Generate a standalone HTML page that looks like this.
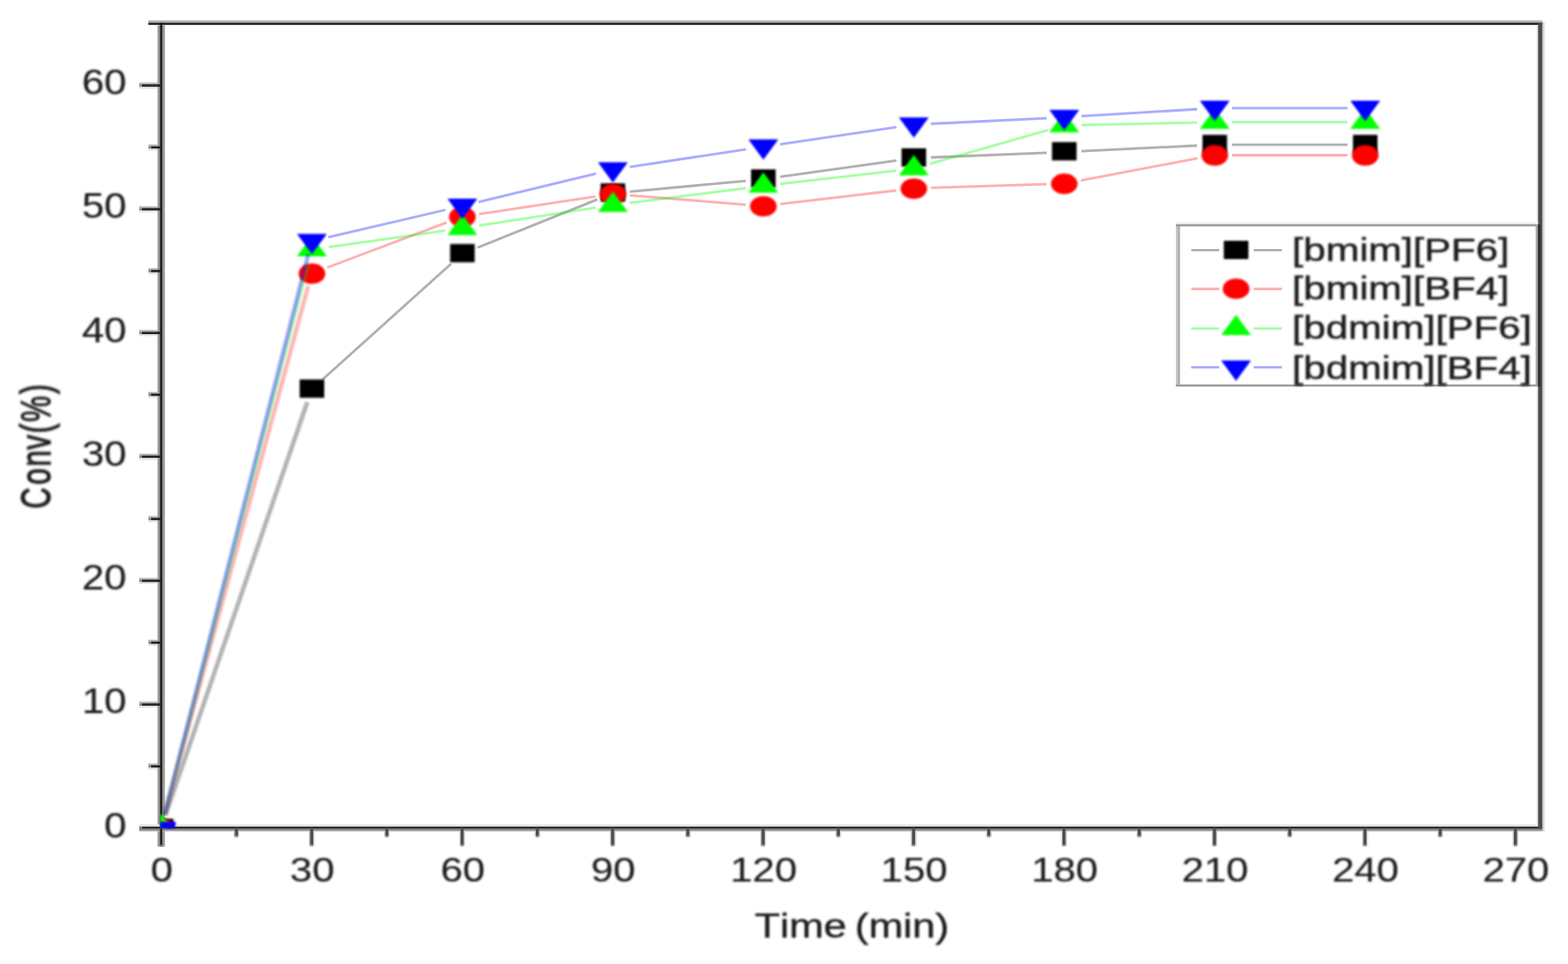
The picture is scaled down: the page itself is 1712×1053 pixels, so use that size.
<!DOCTYPE html>
<html lang="en"><head><meta charset="utf-8"><title>Conv(%) vs Time (min)</title>
<style>html,body{margin:0;padding:0;background:#fff;overflow:hidden}svg{display:block}text{font-family:"Liberation Sans",sans-serif;fill:#1c1c1c}</style>
</head><body>
<svg width="1712" height="1053" viewBox="0 0 1712 1053" role="img" aria-label="Conversion versus time for four ionic liquids">
<defs>
<filter id="bl" x="-5%" y="-5%" width="110%" height="110%"><feGaussianBlur stdDeviation="1.0"/></filter>
<filter id="bm" x="-5%" y="-5%" width="110%" height="110%"><feGaussianBlur stdDeviation="0.9"/></filter>
<filter id="bt" x="-5%" y="-5%" width="110%" height="110%"><feGaussianBlur stdDeviation="0.8"/></filter>
<clipPath id="plot"><rect x="174.8" y="20" width="1506.8" height="885.2"/></clipPath>
</defs>
<rect width="1712" height="1053" fill="#fff"/>
<g>
<rect x="171.7" y="27" width="8.6" height="897.9" fill="#dedede"/>
<rect x="172.1" y="27" width="7.8" height="897.6" fill="#9c9c9c"/>
<rect x="161.6" y="21.9" width="1522.3" height="1" fill="#e2e2e2"/>
<rect x="162" y="22.5" width="1521.9" height="2.8" fill="#b0b0b0"/>
<rect x="162" y="24.2" width="1521.9" height="1.1" fill="#8c8c8c"/>
<rect x="162" y="27" width="1521.9" height="0.7" fill="#e6e6e6"/>
<rect x="152" y="900.4" width="1531.9" height="2.7" fill="#e6e6e6"/>
<rect x="152" y="905" width="1531.9" height="2.8" fill="#8e8e8e"/>
<rect x="152" y="907.8" width="1531.9" height="0.6" fill="#d8d8d8"/>
<rect x="1683.8" y="24" width="2.5" height="884" fill="#cfcfcf"/>
<rect x="1677.4" y="27" width="2" height="876" fill="#ededed"/>
<rect x="162" y="833.94" width="9.9" height="1.9" fill="#b4b4b4"/>
<rect x="162" y="838.34" width="9.9" height="2.4" fill="#e4e4e4"/>
<rect x="152" y="766.37" width="19.9" height="1.9" fill="#b4b4b4"/>
<rect x="152" y="770.77" width="19.9" height="2.4" fill="#e4e4e4"/>
<rect x="162" y="698.8" width="9.9" height="1.9" fill="#b4b4b4"/>
<rect x="162" y="703.2" width="9.9" height="2.4" fill="#e4e4e4"/>
<rect x="152" y="631.24" width="19.9" height="1.9" fill="#b4b4b4"/>
<rect x="152" y="635.64" width="19.9" height="2.4" fill="#e4e4e4"/>
<rect x="162" y="563.68" width="9.9" height="1.9" fill="#b4b4b4"/>
<rect x="162" y="568.08" width="9.9" height="2.4" fill="#e4e4e4"/>
<rect x="152" y="495.61" width="19.9" height="1.9" fill="#b4b4b4"/>
<rect x="152" y="500.01" width="19.9" height="2.4" fill="#e4e4e4"/>
<rect x="162" y="428.05" width="9.9" height="1.9" fill="#b4b4b4"/>
<rect x="162" y="432.45" width="9.9" height="2.4" fill="#e4e4e4"/>
<rect x="152" y="360.48" width="19.9" height="1.9" fill="#b4b4b4"/>
<rect x="152" y="364.88" width="19.9" height="2.4" fill="#e4e4e4"/>
<rect x="162" y="292.91" width="9.9" height="1.9" fill="#b4b4b4"/>
<rect x="162" y="297.31" width="9.9" height="2.4" fill="#e4e4e4"/>
<rect x="152" y="225.35" width="19.9" height="1.9" fill="#b4b4b4"/>
<rect x="152" y="229.75" width="19.9" height="2.4" fill="#e4e4e4"/>
<rect x="162" y="157.78" width="9.9" height="1.9" fill="#b4b4b4"/>
<rect x="162" y="162.19" width="9.9" height="2.4" fill="#e4e4e4"/>
<rect x="152" y="90.22" width="19.9" height="1.9" fill="#b4b4b4"/>
<rect x="152" y="94.62" width="19.9" height="2.4" fill="#e4e4e4"/>
<rect x="255.04" y="908.2" width="6.2" height="5.9" fill="#cccccc"/>
<rect x="337.19" y="908.2" width="6.2" height="15.8" fill="#cccccc"/>
<rect x="419.33" y="908.2" width="6.2" height="5.9" fill="#cccccc"/>
<rect x="501.48" y="908.2" width="6.2" height="15.8" fill="#cccccc"/>
<rect x="583.62" y="908.2" width="6.2" height="5.9" fill="#cccccc"/>
<rect x="665.77" y="908.2" width="6.2" height="15.8" fill="#cccccc"/>
<rect x="747.91" y="908.2" width="6.2" height="5.9" fill="#cccccc"/>
<rect x="830.06" y="908.2" width="6.2" height="15.8" fill="#cccccc"/>
<rect x="912.2" y="908.2" width="6.2" height="5.9" fill="#cccccc"/>
<rect x="994.34" y="908.2" width="6.2" height="15.8" fill="#cccccc"/>
<rect x="1076.49" y="908.2" width="6.2" height="5.9" fill="#cccccc"/>
<rect x="1158.63" y="908.2" width="6.2" height="15.8" fill="#cccccc"/>
<rect x="1240.78" y="908.2" width="6.2" height="5.9" fill="#cccccc"/>
<rect x="1322.92" y="908.2" width="6.2" height="15.8" fill="#cccccc"/>
<rect x="1405.07" y="908.2" width="6.2" height="5.9" fill="#cccccc"/>
<rect x="1487.21" y="908.2" width="6.2" height="15.8" fill="#cccccc"/>
<rect x="1569.36" y="908.2" width="6.2" height="5.9" fill="#cccccc"/>
<rect x="1651.5" y="908.2" width="6.2" height="15.8" fill="#cccccc"/>
<rect x="174.45" y="25.2" width="3" height="899.4" fill="#6a6a6a"/>
<rect x="174.85" y="25.2" width="2.2" height="899.2" fill="#222"/>
<rect x="162" y="25.2" width="1521.9" height="1.9" fill="#111"/>
<rect x="152" y="902.9" width="1531.9" height="2.3" fill="#2e2e2e"/>
<rect x="1679.3" y="25.2" width="4.6" height="880" fill="#4c4c4c"/>
<rect x="162" y="835.84" width="3" height="2.6" fill="#8a8a8a"/>
<rect x="165" y="835.84" width="11" height="2.6" fill="#222"/>
<rect x="152" y="768.27" width="3" height="2.6" fill="#8a8a8a"/>
<rect x="155" y="768.27" width="21" height="2.6" fill="#222"/>
<rect x="162" y="700.7" width="3" height="2.6" fill="#8a8a8a"/>
<rect x="165" y="700.7" width="11" height="2.6" fill="#222"/>
<rect x="152" y="633.14" width="3" height="2.6" fill="#8a8a8a"/>
<rect x="155" y="633.14" width="21" height="2.6" fill="#222"/>
<rect x="162" y="565.58" width="3" height="2.6" fill="#8a8a8a"/>
<rect x="165" y="565.58" width="11" height="2.6" fill="#222"/>
<rect x="152" y="497.51" width="3" height="2.6" fill="#8a8a8a"/>
<rect x="155" y="497.51" width="21" height="2.6" fill="#222"/>
<rect x="162" y="429.95" width="3" height="2.6" fill="#8a8a8a"/>
<rect x="165" y="429.95" width="11" height="2.6" fill="#222"/>
<rect x="152" y="362.38" width="3" height="2.6" fill="#8a8a8a"/>
<rect x="155" y="362.38" width="21" height="2.6" fill="#222"/>
<rect x="162" y="294.81" width="3" height="2.6" fill="#8a8a8a"/>
<rect x="165" y="294.81" width="11" height="2.6" fill="#222"/>
<rect x="152" y="227.25" width="3" height="2.6" fill="#8a8a8a"/>
<rect x="155" y="227.25" width="21" height="2.6" fill="#222"/>
<rect x="162" y="159.69" width="3" height="2.6" fill="#8a8a8a"/>
<rect x="165" y="159.69" width="11" height="2.6" fill="#222"/>
<rect x="152" y="92.12" width="3" height="2.6" fill="#8a8a8a"/>
<rect x="155" y="92.12" width="21" height="2.6" fill="#222"/>
<rect x="152" y="902.9" width="3" height="2.3" fill="#8a8a8a"/>
<rect x="256.44" y="904.1" width="3.4" height="8.8" fill="#4e4e4e"/>
<rect x="256.44" y="912.9" width="3.4" height="1.8" fill="#9a9a9a"/>
<rect x="338.59" y="904.1" width="3.4" height="18.7" fill="#4e4e4e"/>
<rect x="338.59" y="922.8" width="3.4" height="1.8" fill="#9a9a9a"/>
<rect x="420.73" y="904.1" width="3.4" height="8.8" fill="#4e4e4e"/>
<rect x="420.73" y="912.9" width="3.4" height="1.8" fill="#9a9a9a"/>
<rect x="502.88" y="904.1" width="3.4" height="18.7" fill="#4e4e4e"/>
<rect x="502.88" y="922.8" width="3.4" height="1.8" fill="#9a9a9a"/>
<rect x="585.02" y="904.1" width="3.4" height="8.8" fill="#4e4e4e"/>
<rect x="585.02" y="912.9" width="3.4" height="1.8" fill="#9a9a9a"/>
<rect x="667.17" y="904.1" width="3.4" height="18.7" fill="#4e4e4e"/>
<rect x="667.17" y="922.8" width="3.4" height="1.8" fill="#9a9a9a"/>
<rect x="749.31" y="904.1" width="3.4" height="8.8" fill="#4e4e4e"/>
<rect x="749.31" y="912.9" width="3.4" height="1.8" fill="#9a9a9a"/>
<rect x="831.46" y="904.1" width="3.4" height="18.7" fill="#4e4e4e"/>
<rect x="831.46" y="922.8" width="3.4" height="1.8" fill="#9a9a9a"/>
<rect x="913.6" y="904.1" width="3.4" height="8.8" fill="#4e4e4e"/>
<rect x="913.6" y="912.9" width="3.4" height="1.8" fill="#9a9a9a"/>
<rect x="995.74" y="904.1" width="3.4" height="18.7" fill="#4e4e4e"/>
<rect x="995.74" y="922.8" width="3.4" height="1.8" fill="#9a9a9a"/>
<rect x="1077.89" y="904.1" width="3.4" height="8.8" fill="#4e4e4e"/>
<rect x="1077.89" y="912.9" width="3.4" height="1.8" fill="#9a9a9a"/>
<rect x="1160.03" y="904.1" width="3.4" height="18.7" fill="#4e4e4e"/>
<rect x="1160.03" y="922.8" width="3.4" height="1.8" fill="#9a9a9a"/>
<rect x="1242.18" y="904.1" width="3.4" height="8.8" fill="#4e4e4e"/>
<rect x="1242.18" y="912.9" width="3.4" height="1.8" fill="#9a9a9a"/>
<rect x="1324.32" y="904.1" width="3.4" height="18.7" fill="#4e4e4e"/>
<rect x="1324.32" y="922.8" width="3.4" height="1.8" fill="#9a9a9a"/>
<rect x="1406.47" y="904.1" width="3.4" height="8.8" fill="#4e4e4e"/>
<rect x="1406.47" y="912.9" width="3.4" height="1.8" fill="#9a9a9a"/>
<rect x="1488.61" y="904.1" width="3.4" height="18.7" fill="#4e4e4e"/>
<rect x="1488.61" y="922.8" width="3.4" height="1.8" fill="#9a9a9a"/>
<rect x="1570.76" y="904.1" width="3.4" height="8.8" fill="#4e4e4e"/>
<rect x="1570.76" y="912.9" width="3.4" height="1.8" fill="#9a9a9a"/>
<rect x="1652.9" y="904.1" width="3.4" height="18.7" fill="#4e4e4e"/>
<rect x="1652.9" y="922.8" width="3.4" height="1.8" fill="#9a9a9a"/>
<rect x="174.85" y="922.8" width="2.2" height="1.8" fill="#8a8a8a"/>
</g>
<g clip-path="url(#plot)">
<path d="M180.75 890.25L335.54 439.15" stroke="#000" stroke-opacity="0.3" stroke-width="4.8" fill="none" filter="url(#bl)"/>
<path d="M352.47 414.33L492.4 288.27M521.33 270.55L652.12 217.85M687.72 209.34L814.3 197.56M851.84 193.18L978.76 175.42M1016.42 172.01L1142.76 166.79M1180.69 165.09L1307.06 159.01M1345.02 158.1L1471.31 158.1" stroke="#000" stroke-opacity="0.31" stroke-width="2.8" fill="none"/>
<g filter="url(#bm)">
<path d="M174.8 894.4H189.4V905.2H174.8Z" fill="#000"/>
<rect x="327.19" y="414.5" width="26.8" height="20.0" fill="#000"/>
<rect x="491.48" y="266.5" width="26.8" height="20.0" fill="#000"/>
<rect x="655.77" y="200.3" width="26.8" height="20.0" fill="#000"/>
<rect x="820.06" y="185" width="26.8" height="20.0" fill="#000"/>
<rect x="984.34" y="162" width="26.8" height="20.0" fill="#000"/>
<rect x="1148.63" y="155.2" width="26.8" height="20.0" fill="#000"/>
<rect x="1312.92" y="147.3" width="26.8" height="20.0" fill="#000"/>
<rect x="1477.21" y="147.3" width="26.8" height="20.0" fill="#000"/>
</g>
<path d="M179.8 890.09L336.49 312.61" stroke="#f00" stroke-opacity="0.3" stroke-width="4.4" fill="none" filter="url(#bl)"/>
<path d="M357.28 292.2L487.59 243.1M523.2 233.88L650.24 214.62M687.76 213.33L814.26 223.57M851.93 222.89L978.67 208.01M1016.43 205.19L1142.75 201.11M1180.16 197.02L1307.59 172.98M1345.02 169.5L1471.31 169.5" stroke="#f00" stroke-opacity="0.31" stroke-width="2.8" fill="none"/>
<g filter="url(#bm)">
<path d="M174.8 893.6C183 893.6 189.6 898 190.4 905.2H174.8Z" fill="#f00"/>
<ellipse cx="340.59" cy="298.9" rx="14.5" ry="11.2" fill="#f00"/>
<ellipse cx="504.88" cy="237" rx="14.5" ry="11.2" fill="#f00"/>
<ellipse cx="669.17" cy="212.1" rx="14.5" ry="11.2" fill="#f00"/>
<ellipse cx="833.46" cy="225.4" rx="14.5" ry="11.2" fill="#f00"/>
<ellipse cx="997.74" cy="206.1" rx="14.5" ry="11.2" fill="#f00"/>
<ellipse cx="1162.03" cy="200.8" rx="14.5" ry="11.2" fill="#f00"/>
<ellipse cx="1326.32" cy="169.8" rx="14.5" ry="11.2" fill="#f00"/>
<ellipse cx="1490.61" cy="169.8" rx="14.5" ry="11.2" fill="#f00"/>
</g>
<path d="M179.65 890.07L336.64 286.53" stroke="#0f0" stroke-opacity="0.3" stroke-width="4.2" fill="none" filter="url(#bl)"/>
<path d="M358.96 269.86L485.9 251.94M523.2 246.44L650.25 226.96M687.6 221.71L814.42 205.49M851.94 200.93L978.66 186.27M1015.2 179.02L1143.97 142.18M1180.72 136.67L1307.03 133.83M1345.02 133.4L1471.31 133.4" stroke="#0f0" stroke-opacity="0.35" stroke-width="2.8" fill="none"/>
<g filter="url(#bm)">
<path d="M174.8 889.6H176.6L182.6 898.2V905.2H174.8Z" fill="#0f0"/>
<path d="M324.29 279.9H356.89L340.59 257.7Z" fill="#0f0"/>
<path d="M488.58 256.7H521.18L504.88 234.5Z" fill="#0f0"/>
<path d="M652.87 231.5H685.47L669.17 209.3Z" fill="#0f0"/>
<path d="M817.16 210.5H849.76L833.46 188.3Z" fill="#0f0"/>
<path d="M981.44 191.5H1014.04L997.74 169.3Z" fill="#0f0"/>
<path d="M1145.73 144.5H1178.33L1162.03 122.3Z" fill="#0f0"/>
<path d="M1310.02 140.8H1342.62L1326.32 118.6Z" fill="#0f0"/>
<path d="M1474.31 140.8H1506.91L1490.61 118.6Z" fill="#0f0"/>
</g>
<path d="M179.6 890.06L336.69 277.44" stroke="#00f" stroke-opacity="0.36" stroke-width="4.4" fill="none" filter="url(#bl)"/>
<path d="M358.43 259.16L486.43 229.24M522.66 220.62L650.78 189.58M687.49 182.38L814.53 163.12M851.8 157.56L978.8 138.94M1016.4 135.27L1142.77 129.03M1180.67 126.95L1307.08 119.25M1345.02 118.1L1471.31 118.1" stroke="#00f" stroke-opacity="0.33" stroke-width="2.8" fill="none"/>
<g filter="url(#bm)">
<path d="M174.8 897.8H192.2L190.2 905.2H174.8Z" fill="#00f"/>
<path d="M324.29 255.4H356.89L340.59 277.6Z" fill="#00f"/>
<path d="M488.58 217H521.18L504.88 239.2Z" fill="#00f"/>
<path d="M652.87 177.2H685.47L669.17 199.4Z" fill="#00f"/>
<path d="M817.16 152.3H849.76L833.46 174.5Z" fill="#00f"/>
<path d="M981.44 128.2H1014.04L997.74 150.4Z" fill="#00f"/>
<path d="M1145.73 120.1H1178.33L1162.03 142.3Z" fill="#00f"/>
<path d="M1310.02 110.1H1342.62L1326.32 132.3Z" fill="#00f"/>
<path d="M1474.31 110.1H1506.91L1490.61 132.3Z" fill="#00f"/>
</g>
</g>
<g>
<rect x="1283.9" y="242.6" width="395.3" height="2.5" fill="#f2f2f2"/>
<rect x="1283.9" y="245.1" width="2.2" height="177" fill="#c6c6c6"/>
<rect x="1286.1" y="245.1" width="2.2" height="177" fill="#a9a9a9"/>
<rect x="1283.9" y="244.9" width="395.4" height="2.4" fill="#9c9c9c"/>
<rect x="1283.9" y="419.9" width="395.4" height="2.4" fill="#9c9c9c"/>
<rect x="1676.7" y="245.1" width="2.6" height="177" fill="#a4a4a4"/>
<rect x="1679.3" y="245.1" width="2.6" height="177" fill="#2c2c2c"/>
</g>
<g filter="url(#bm)">
<rect x="1336.2" y="263" width="26.8" height="20.0" fill="#000"/>
<ellipse cx="1349.6" cy="315.4" rx="14.5" ry="11.2" fill="#f00"/>
<path d="M1333.3 366.1H1365.9L1349.6 343.9Z" fill="#0f0"/>
<path d="M1333.3 393.7H1365.9L1349.6 415.9Z" fill="#00f"/>
</g>
<path d="M1300.6 273.2H1331.2M1368.8 273.2H1399.6" stroke="#000" stroke-opacity="0.32" stroke-width="2.6" fill="none"/>
<path d="M1300.6 315.6H1331.2M1368.8 315.6H1399.6" stroke="#f00" stroke-opacity="0.32" stroke-width="2.6" fill="none"/>
<path d="M1300.6 358.9H1331.2M1368.8 358.9H1399.6" stroke="#0f0" stroke-opacity="0.36" stroke-width="2.6" fill="none"/>
<path d="M1300.6 401.3H1331.2M1368.8 401.3H1399.6" stroke="#00f" stroke-opacity="0.34" stroke-width="2.6" fill="none"/>
<g filter="url(#bt)">
<text transform="translate(176.6 962.7) scale(1.175 1)" font-size="37.2" text-anchor="middle" stroke="#1c1c1c" stroke-width="0.15">0</text>
<text transform="translate(340.89 962.7) scale(1.175 1)" font-size="37.2" text-anchor="middle" stroke="#1c1c1c" stroke-width="0.15">30</text>
<text transform="translate(505.18 962.7) scale(1.175 1)" font-size="37.2" text-anchor="middle" stroke="#1c1c1c" stroke-width="0.15">60</text>
<text transform="translate(669.47 962.7) scale(1.175 1)" font-size="37.2" text-anchor="middle" stroke="#1c1c1c" stroke-width="0.15">90</text>
<text transform="translate(833.76 962.7) scale(1.175 1)" font-size="37.2" text-anchor="middle" stroke="#1c1c1c" stroke-width="0.15">120</text>
<text transform="translate(998.04 962.7) scale(1.175 1)" font-size="37.2" text-anchor="middle" stroke="#1c1c1c" stroke-width="0.15">150</text>
<text transform="translate(1162.33 962.7) scale(1.175 1)" font-size="37.2" text-anchor="middle" stroke="#1c1c1c" stroke-width="0.15">180</text>
<text transform="translate(1326.62 962.7) scale(1.175 1)" font-size="37.2" text-anchor="middle" stroke="#1c1c1c" stroke-width="0.15">210</text>
<text transform="translate(1490.91 962.7) scale(1.175 1)" font-size="37.2" text-anchor="middle" stroke="#1c1c1c" stroke-width="0.15">240</text>
<text transform="translate(1655.2 962.7) scale(1.175 1)" font-size="37.2" text-anchor="middle" stroke="#1c1c1c" stroke-width="0.15">270</text>
<text transform="translate(138.0 914.7) scale(1.15 1)" font-size="38" text-anchor="end" stroke="#1c1c1c" stroke-width="0.15">0</text>
<text transform="translate(138.0 779.17) scale(1.15 1)" font-size="38" text-anchor="end" stroke="#1c1c1c" stroke-width="0.15">10</text>
<text transform="translate(138.0 644.04) scale(1.15 1)" font-size="38" text-anchor="end" stroke="#1c1c1c" stroke-width="0.15">20</text>
<text transform="translate(138.0 509.31) scale(1.15 1)" font-size="38" text-anchor="end" stroke="#1c1c1c" stroke-width="0.15">30</text>
<text transform="translate(138.0 373.58) scale(1.15 1)" font-size="38" text-anchor="end" stroke="#1c1c1c" stroke-width="0.15">40</text>
<text transform="translate(138.0 238.05) scale(1.15 1)" font-size="38" text-anchor="end" stroke="#1c1c1c" stroke-width="0.15">50</text>
<text transform="translate(138.0 103.02) scale(1.15 1)" font-size="38" text-anchor="end" stroke="#1c1c1c" stroke-width="0.15">60</text>
<text transform="translate(928.2 1024) scale(1.215 1)" font-size="37.2" text-anchor="middle" dx="1.6 1.4 0 0 -1.5 -1.5" stroke="#1c1c1c" stroke-width="0.4">Time (min)</text>
<text transform="translate(55.2 555.6) scale(1.45 1) rotate(-90)" font-size="32" letter-spacing="1.9" stroke="#1c1c1c" stroke-width="0.85" dx="0 1.2 0 -1.2 0 0 0">Conv(%)</text>
<text transform="translate(1410.8 284.5) scale(1.25 1)" font-size="35.2" text-anchor="start" stroke="#1c1c1c" stroke-width="0.45">[bmim][PF6]</text>
<text transform="translate(1410.8 326.9) scale(1.25 1)" font-size="35.2" text-anchor="start" stroke="#1c1c1c" stroke-width="0.45">[bmim][BF4]</text>
<text transform="translate(1410.8 369.8) scale(1.25 1)" font-size="35.2" text-anchor="start" stroke="#1c1c1c" stroke-width="0.45">[bdmim][PF6]</text>
<text transform="translate(1410.8 413.8) scale(1.25 1)" font-size="35.2" text-anchor="start" stroke="#1c1c1c" stroke-width="0.45">[bdmim][BF4]</text>
</g>
</svg></body></html>
